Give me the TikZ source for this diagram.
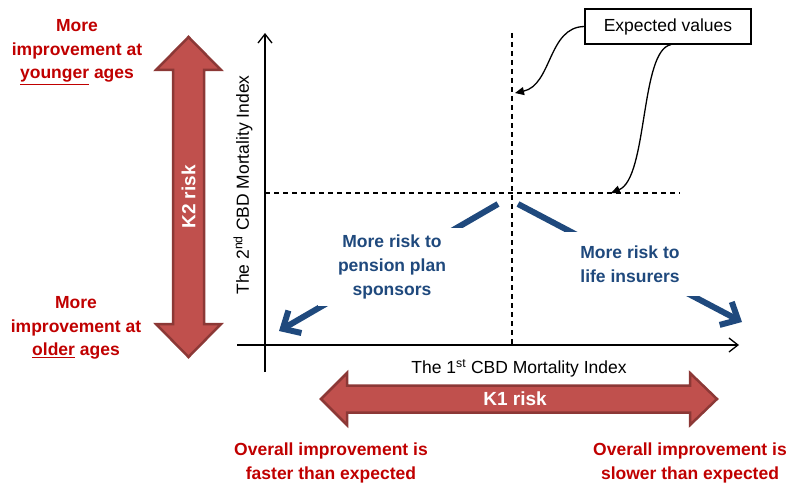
\documentclass[tikz,border=0pt]{standalone}
\usepackage{fontspec}
\setmainfont{Liberation Sans}
\usetikzlibrary{arrows.meta,positioning}
\definecolor{krred}{HTML}{C0504D}
\definecolor{krborder}{HTML}{8C3836}
\definecolor{krtext}{HTML}{C00000}
\definecolor{krblue}{HTML}{1F497D}

\begin{document}
\begin{tikzpicture}[x=1pt, y=-1pt,
  every node/.style={font=\fontsize{17.5}{23.5}\selectfont, inner sep=0pt},
  redlbl/.style={text=krtext, font=\fontsize{17.5}{23.5}\selectfont\bfseries, align=center},
  bluelbl/.style={text=krblue, fill=white, font=\fontsize{17.5}{24}\selectfont\bfseries, align=center},
  risklbl/.style={text=white, font=\fontsize{19}{22}\selectfont\bfseries},
  bigarrow/.style={fill=krred, draw=krborder, line width=2.5pt, line join=miter},
  axis/.style={line width=1.3pt, -{Straight Barb[length=9pt,width=14pt]}},
  guide/.style={line width=1.4pt, dash pattern=on 5pt off 4pt},
  callout/.style={line width=1.3pt, -{Triangle[length=9pt,width=8pt]}},
  riskarrow/.style={krblue, line width=6pt, -{Straight Barb[length=14pt,width=26pt]}}
]
  \useasboundingbox (0,0) rectangle (794,484);

  % ---- K2 double arrow (vertical) ----
  \draw[bigarrow] (188.5,37) -- (221,70) -- (204,70) -- (204,324) -- (221,324)
    -- (188.5,357) -- (156,324) -- (173,324) -- (173,70) -- (156,70) -- cycle;
  \node[risklbl, rotate=90] (k2) at (188.5,197) {K2 risk};

  % ---- K1 double arrow (horizontal) ----
  \draw[bigarrow] (321,399) -- (347,373) -- (347,385.5) -- (690,385.5) -- (690,373)
    -- (717,399) -- (690,425) -- (690,412.5) -- (347,412.5) -- (347,425) -- cycle;
  \node[risklbl] (k1) at (515,399) {K1 risk};

  % ---- Axes ----
  \coordinate (ybot) at (265,372);
  \coordinate (ytop) at (265,33);
  \coordinate (xlft) at (237,345);
  \coordinate (xrgt) at (739,345);
  \draw[axis] (ybot) -- (ytop);
  \draw[axis] (xlft) -- (xrgt);
  \node[rotate=90] (ylbl) at (243,185) {The 2\textsuperscript{nd} CBD Mortality Index};
  \node (xlbl) at (519,368) {The 1\textsuperscript{st} CBD Mortality Index};

  % ---- Expected values (dashed guides) ----
  \coordinate (vtop) at (512,33);
  \coordinate (vbot) at (512,345);
  \coordinate (hlft) at (265,193);
  \coordinate (hrgt) at (680,193);
  \draw[guide] (vtop) -- (vbot);
  \draw[guide] (hlft) -- (hrgt);

  \node[draw, line width=1.3pt, minimum width=166pt, minimum height=35pt]
    (ev) at (668,26.5) {Expected values};
  \coordinate (ev1) at (515,93);
  \coordinate (ev2) at (611,193);
  \draw[callout] (ev.west) .. controls (548,27) and (552,85) .. (ev1);
  \draw[callout] ([xshift=3pt]ev.south) .. controls (640,50) and (648,178) .. (ev2);

  % ---- Who carries the risk ----
  \coordinate (pstart) at (498,204);
  \coordinate (ptip) at (279,331);
  \coordinate (lstart) at (518,204);
  \coordinate (ltip) at (742,322);
  \draw[riskarrow] (pstart) -- (ptip);
  \draw[riskarrow] (lstart) -- (ltip);
  \node[bluelbl, minimum width=148pt, minimum height=78pt] (pens) at (392,267)
    {More risk to\\pension plan\\sponsors};
  \node[bluelbl, minimum width=150pt, minimum height=64pt] (life) at (630,264)
    {More risk to\\life insurers};

  % ---- K2 direction labels ----
  \node[redlbl] (young) at (77,52) {More\\improvement at\\\underline{younger} ages};
  \node[redlbl] (old) at (76,328) {More\\improvement at\\\underline{older} ages};

  % ---- K1 direction labels ----
  \node[redlbl] (fast) at (331,463) {Overall improvement is\\faster than expected};
  \node[redlbl] (slow) at (690,463) {Overall improvement is\\slower than expected};

\end{tikzpicture}
\end{document}
